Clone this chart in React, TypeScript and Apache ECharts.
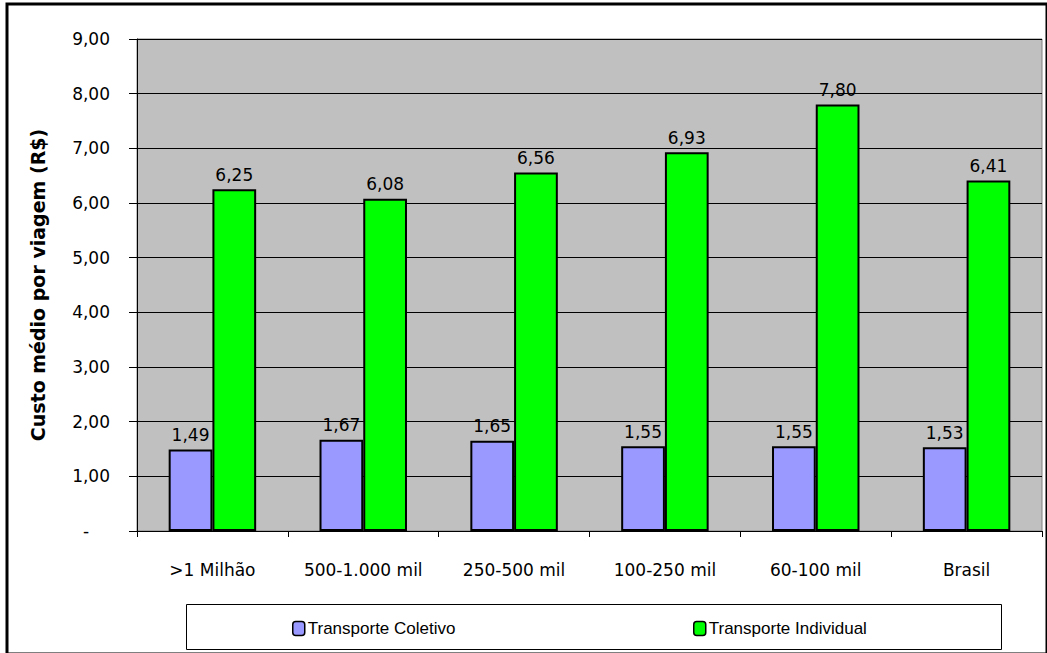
import React, { useEffect, useRef } from "react";
import * as echarts from "echarts";

const categories = [">1 Milhão", "500-1.000 mil", "250-500 mil", "100-250 mil", "60-100 mil", "Brasil"];
const coletivo = [1.49, 1.67, 1.65, 1.55, 1.55, 1.53];
const individual = [6.25, 6.08, 6.56, 6.93, 7.8, 6.41];
const yTicks = [0, 1, 2, 3, 4, 5, 6, 7, 8, 9];
const seriesNames = ["Transporte Coletivo", "Transporte Individual"];
const yTitle = "Custo médio por viagem (R$)";

const FONT = "'DejaVu Sans', sans-serif";
const LFONT = "'Liberation Sans', Arial, sans-serif";
const fmt = (v: number) => v.toFixed(2).replace(".", ",");

export default function App() {
  const ref = useRef<HTMLDivElement>(null);
  useEffect(() => {
    if (!ref.current) return;
    const chart = echarts.init(ref.current, null, { renderer: "svg" });
    const labelCfg = {
      show: true,
      position: "top" as const,
      distance: 6,
      color: "#000",
      fontSize: 17,
      fontFamily: FONT,
      formatter: (p: any) => fmt(p.value),
    };
    chart.setOption({
      animation: false,
      backgroundColor: "#fff",
      textStyle: { fontFamily: FONT },
      grid: { left: 137, right: 5, top: 39, bottom: 122, show: true, backgroundColor: "#C0C0C0", borderColor: "#808080", borderWidth: 1 },
      graphic: [
        { type: "rect", shape: { x: 7, y: 4, width: 1040, height: 650 }, style: { fill: "none", stroke: "#000", lineWidth: 3 }, silent: true },
        { type: "rect", shape: { x: 186.5, y: 604.5, width: 815, height: 45 }, style: { fill: "#fff", stroke: "#000", lineWidth: 1 }, silent: true, z: -1 },
      ],
      legend: [
        {
          data: [seriesNames[0]], left: 287, top: 615, itemWidth: 12, itemHeight: 14, itemGap: 0,
          textStyle: { fontSize: 17, color: "#000", fontFamily: LFONT, padding: [0, 0, 0, -2] },
          itemStyle: { borderColor: "#000", borderWidth: 1.5 },
        },
        {
          data: [seriesNames[1]], left: 688, top: 615, itemWidth: 12, itemHeight: 14, itemGap: 0,
          textStyle: { fontSize: 17, color: "#000", fontFamily: LFONT, padding: [0, 0, 0, -2] },
          itemStyle: { borderColor: "#000", borderWidth: 1.5 },
        },
      ],
      xAxis: {
        type: "category",
        data: categories,
        axisLine: { lineStyle: { color: "#000", width: 1 } },
        axisTick: { show: true, length: 6, interval: 0, lineStyle: { color: "#000" } },
        axisLabel: { fontSize: 17, color: "#000", margin: 30, interval: 0, fontFamily: FONT },
      },
      yAxis: {
        type: "value",
        min: 0,
        max: 9,
        interval: 1,
        name: yTitle,
        nameLocation: "middle",
        nameGap: 90,
        nameTextStyle: { fontSize: 19, fontWeight: "bold", color: "#000", fontFamily: FONT },
        axisLine: { show: true, lineStyle: { color: "#000" } },
        axisTick: { show: true, length: 8, lineStyle: { color: "#000" } },
        splitLine: { show: true, lineStyle: { color: "#000", width: 1 } },
        axisLabel: {
          fontSize: 17,
          color: "#000",
          margin: 27,
          fontFamily: FONT,
          formatter: (v: number) => (v === 0 ? "{d|-}" : fmt(v)),
          rich: { d: { fontSize: 17, color: "#000", width: 27, align: "left", fontFamily: FONT } },
        },
      },
      series: [
        {
          name: seriesNames[0],
          type: "bar",
          data: coletivo,
          barGap: "0%",
          barCategoryGap: "42%",
          itemStyle: { color: "#9999FF", borderColor: "#000", borderWidth: 2 },
          label: labelCfg,
        },
        {
          name: seriesNames[1],
          type: "bar",
          data: individual,
          itemStyle: { color: "#00FF00", borderColor: "#000", borderWidth: 2 },
          label: labelCfg,
        },
      ],
    });
    return () => chart.dispose();
  }, []);
  return <div ref={ref} style={{ position: "absolute", left: 0, top: 0, width: 1047, height: 653 }} />;
}
